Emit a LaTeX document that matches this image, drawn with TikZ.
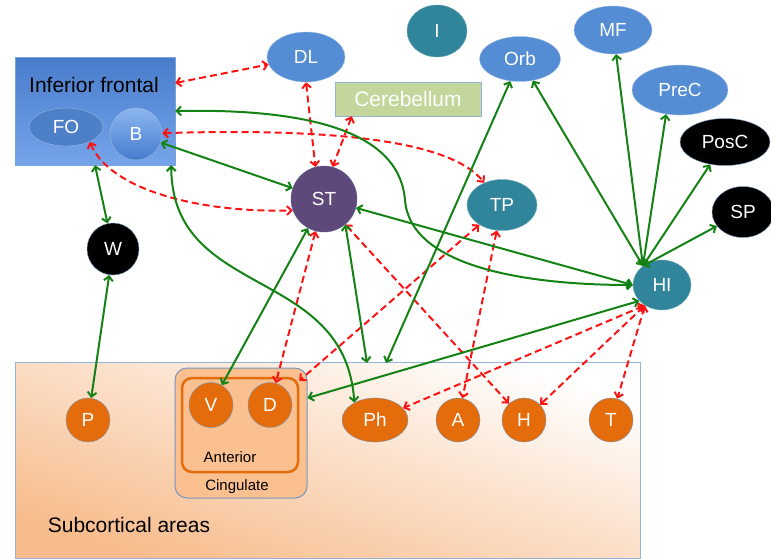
\documentclass[tikz,border=0pt]{standalone}
\usepackage{fontspec}
\setmainfont{Liberation Sans}
\usetikzlibrary{backgrounds, shapes.geometric, arrows.meta}
\definecolor{cortblue}{RGB}{84,141,212}
\definecolor{foblue}{RGB}{78,128,200}
\definecolor{tealc}{RGB}{49,133,155}
\definecolor{purplec}{RGB}{95,73,122}
\definecolor{orangec}{RGB}{228,108,10}
\definecolor{peach}{RGB}{250,192,144}
\definecolor{edgeblue}{RGB}{120,150,190}
\definecolor{boxblue}{RGB}{149,179,215}
\definecolor{cereb}{RGB}{195,214,155}
\definecolor{greenc}{RGB}{20,130,20}
\definecolor{redc}{RGB}{250,20,20}
\tikzstyle{cortex} = [ellipse, draw=cortblue!60!white, fill=cortblue, text=white, font=\fontsize{19}{20}\selectfont, inner sep=0pt]
\tikzstyle{tealnd} = [cortex, fill=tealc, draw=tealc!70!white]
\tikzstyle{darknd} = [cortex, fill=black, draw=edgeblue]
\tikzstyle{subnd} = [cortex, fill=orangec, draw=edgeblue, minimum width=44pt, minimum height=44pt]
\tikzstyle{ifbox} = [rectangle, draw=cortblue!80!white, top color={rgb,255:red,72;green,124;blue,203}, bottom color={rgb,255:red,118;green,164;blue,234}]
\tikzstyle{subbox} = [rectangle, draw=boxblue, bottom color={rgb,255:red,247;green,188;blue,140}, top color=white, shading angle=-18]
\tikzstyle{gline} = [line width=2pt, draw=greenc, {Straight Barb[length=4.5pt,width=9pt]}-{Straight Barb[length=4.5pt,width=9pt]}]
\tikzstyle{rline} = [line width=2pt, draw=redc, dash pattern=on 7pt off 4pt, {Straight Barb[length=4.5pt,width=9pt]}-{Straight Barb[length=4.5pt,width=9pt]}]

\begin{document}
\begin{tikzpicture}[x=1pt,y=-1pt]
\useasboundingbox (0,0) rectangle (771,558);

\begin{scope}[on background layer]
    \node (sub) [subbox, minimum width=625pt, minimum height=196pt] at (327.5,460) {};
    \node (Cing) [rectangle, rounded corners=12pt, draw=edgeblue, fill=peach, line width=1pt, minimum width=132pt, minimum height=130pt] at (241,433) {};
    \node (Ant) [rectangle, rounded corners=10pt, draw=orangec, fill=peach, line width=2.5pt, minimum width=116pt, minimum height=94pt] at (240,425) {};
    \node (IF) [ifbox, minimum width=160pt, minimum height=108pt] at (95,111) {};
\end{scope}

\node (sublabel) [font=\fontsize{21}{22}\selectfont] at (129,525) {Subcortical areas};
\node (antlabel) [font=\fontsize{15}{16}\selectfont] at (230,457) {Anterior};
\node (cinglabel) [font=\fontsize{15}{16}\selectfont] at (237,487) {Cingulate};
\node (IFlabel) [font=\fontsize{21}{22}\selectfont] at (94,85) {Inferior frontal};

\node (FO) [cortex, fill=foblue, minimum width=74pt, minimum height=38pt] at (66,127) {FO};
\node (B) [cortex, top color={rgb,255:red,140;green,182;blue,242}, bottom color={rgb,255:red,70;green,124;blue,205}, minimum width=52pt, minimum height=52pt] at (136,134) {B};
\node (DL) [cortex, minimum width=78pt, minimum height=50pt] at (306,57) {DL};
\node (I) [tealnd, minimum width=60pt, minimum height=52pt] at (437,31) {I};
\node (Orb) [cortex, minimum width=81pt, minimum height=45pt] at (520,59) {Orb};
\node (MF) [cortex, minimum width=78pt, minimum height=48pt] at (613,30) {MF};
\node (PreC) [cortex, minimum width=96pt, minimum height=50pt] at (680,90) {PreC};
\node (PosC) [darknd, minimum width=90pt, minimum height=47pt] at (725,142) {PosC};
\node (SP) [darknd, minimum width=62pt, minimum height=51pt] at (743,212) {SP};
\node (Cereb) [rectangle, draw=boxblue, fill=cereb, text=white, font=\fontsize{21}{22}\selectfont, minimum width=146pt, minimum height=34pt] at (408,99) {Cerebellum};
\node (ST) [cortex, fill=purplec, draw=purplec!60!cortblue, minimum width=66pt, minimum height=66pt] at (324,199) {ST};
\node (TP) [tealnd, minimum width=70pt, minimum height=51pt] at (502,205) {TP};
\node (HI) [tealnd, minimum width=58pt, minimum height=50pt] at (662,285) {HI};
\node (W) [darknd, minimum width=52pt, minimum height=52pt] at (113,249) {W};

\node (P) [subnd] at (88,420) {P};
\node (V) [subnd, minimum height=45pt] at (211,405) {V};
\node (D) [subnd, minimum height=45pt] at (270,405) {D};
\node (Ph) [subnd, minimum width=66pt] at (375,420) {Ph};
\node (A) [subnd] at (458,420) {A};
\node (H) [subnd] at (524,420) {H};
\node (T) [subnd] at (611,420) {T};

\coordinate (subA) at (367,363);
\coordinate (subB) at (386,363);

% dashed links
\draw[rline] ([yshift=28pt]IF.east) -- (DL);
\draw[rline] (DL.south) -- (ST.105);
\draw[rline] ([xshift=17pt]Cereb.south west) -- (ST.75);
\draw[rline] (B) .. controls (330,128) and (450,140) .. (TP);
\draw[rline] (FO.-32) .. controls (110,190) and (200,213) .. (ST.-160);
\draw[rline] (ST) -- (D);
\draw[rline] (TP) -- ([yshift=-4pt]Ant.north east);
\draw[rline] (ST.-50) -- (H);
\draw[rline] (TP) -- (A);
\draw[rline] (HI.-130) -- (Ph);
\draw[rline] (HI.-130) -- (H);
\draw[rline] (HI.-130) -- (T);

% solid links
\draw[gline] (IF.east) .. controls (330,108) and (400,140) .. (405,200) .. controls (410,265) and (520,285) .. (HI.west);
\draw[gline] (B) -- (ST);
\draw[gline] ([xshift=-4pt]IF.south east) .. controls (172,300) and (345,265) .. (Ph.140);
\draw[gline] (IF.south) -- (W);
\draw[gline] (W) -- (P);
\draw[gline] (ST) -- (V);
\draw[gline] (ST.-50) -- (subA);
\draw[gline] (Orb) -- (subB);
\draw[gline] (ST) -- (HI.west);
\draw[gline] (HI.-145) -- ([yshift=35pt]Cing.east);
\draw[gline] (HI.135) -- (Orb);
\draw[gline] (HI.135) -- (MF);
\draw[gline] (HI.135) -- (PreC.-120);
\draw[gline] (HI.135) -- (PosC);
\draw[gline] (HI.135) -- (SP);

\end{tikzpicture}
\end{document}
